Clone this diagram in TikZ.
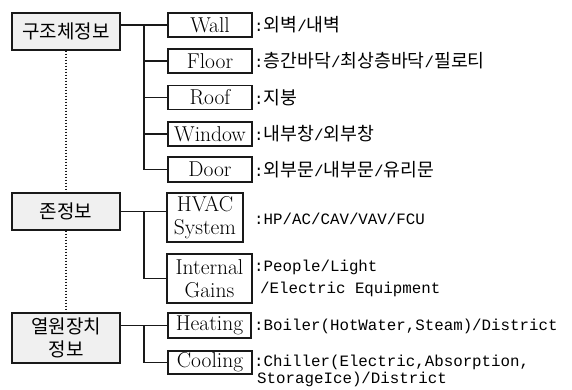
\documentclass[tikz,border=0pt]{standalone}
\usepackage{fontspec}
\newfontfamily\kr{Noto Sans CJK KR}
\newfontfamily\mono{Liberation Mono}
\newcommand\kk[1]{{\kr\fontsize{18.3}{23}\selectfont #1}}
\begin{document}
\begin{tikzpicture}[x=1pt,y=-1pt,
 lbox/.style={draw=black!90, line width=1.3pt, fill=black!6, inner sep=0pt, minimum width=108pt, align=center, font=\kr\fontsize{19}{23}\selectfont},
 rbox/.style={draw=black!90, line width=1.3pt, fill=white, inner sep=0pt, align=center, font=\fontsize{21.5}{23}\selectfont},
 desc/.style={anchor=base west, inner sep=0pt, font=\mono\fontsize{15.8}{22}\selectfont},
 conn/.style={line width=1.3pt, draw=black!90},
 dots/.style={line width=1.5pt, dash pattern=on 1.5pt off 1.5pt, draw=black!90}]
\useasboundingbox (0,0) rectangle (572,389);
% left boxes
\node[lbox, minimum height=37pt] (s1) at (66,31.5) {구조체정보};
\node[lbox, minimum height=37pt] (s2) at (66,211.5) {존정보};
\node[lbox, minimum height=50pt] (s3) at (66,338) {열원장치\\정보};
% right boxes
\node[rbox, minimum width=84pt, minimum height=24pt] (wall) at (210,25) {Wall};
\node[rbox, minimum width=84pt, minimum height=24pt] (floor) at (210,61) {Floor};
\node[rbox, minimum width=84pt, minimum height=24pt] (roof) at (210,97.5) {Roof};
\node[rbox, minimum width=84pt, minimum height=24pt] (window) at (210,134) {Window};
\node[rbox, minimum width=84pt, minimum height=25pt] (door) at (210,169.5) {Door};
\node[rbox, minimum width=76pt, minimum height=49pt] (hvac) at (205,217.5) {HVAC\\System};
\node[rbox, minimum width=85pt, minimum height=49pt] (internal) at (209.5,278.5) {Internal\\Gains};
\node[rbox, minimum width=83pt, minimum height=25pt] (heating) at (209.5,325.5) {Heating};
\node[rbox, minimum width=84pt, minimum height=23pt] (cooling) at (210,362.5) {Cooling};
% connectors
\coordinate (j) at (144,0);
\draw[conn] (s1.east |- wall.west) -- (wall.west);
\draw[conn] (j |- wall.west) -- (j |- door.west) -- (door.west);
\foreach \n in {floor,roof,window} \draw[conn] (j |- \n.west) -- (\n.west);
\draw[conn] (s2.east) -- (hvac.west |- s2.east);
\draw[conn] (j |- s2.east) -- (j |- internal.west) -- (internal.west);
\draw[conn] (s3.east |- heating.west) -- (heating.west);
\draw[conn] (j |- heating.west) -- (j |- cooling.west) -- (cooling.west);
\draw[dots] (s1.south) -- (s2.north);
\draw[dots] (s2.south) -- (s3.north);
% descriptions
\node[desc] (d1) at (254,31.7) {:\kk{외벽}/\kk{내벽}};
\node[desc] (d2) at (254,67.7) {:\kk{층간바닥}/\kk{최상층바닥}/\kk{필로티}};
\node[desc] (d3) at (254,104) {:\kk{지붕}};
\node[desc] (d4) at (254,140.7) {:\kk{내부창}/\kk{외부창}};
\node[desc] (d5) at (254,176) {:\kk{외부문}/\kk{내부문}/\kk{유리문}};
\node[desc] (d6) at (254,224.5) {:HP/AC/CAV/VAV/FCU};
\node[desc] (d7) at (254,271.5) {:People/Light};
\node[desc] (d7b) at (260,293.5) {/Electric Equipment};
\node[desc] (d8) at (254,330.5) {:Boiler(HotWater,Steam)/District};
\node[desc] (d9) at (254,366.5) {:Chiller(Electric,Absorption,};
\node[desc] (d9b) at (257,383.5) {StorageIce)/District};
\end{tikzpicture}
\end{document}
